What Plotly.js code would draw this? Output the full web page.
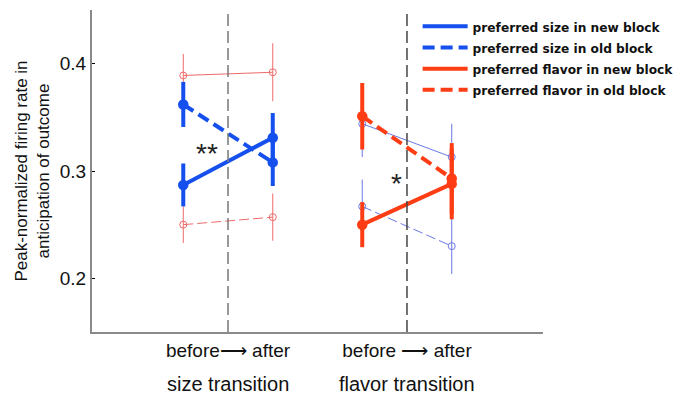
<!DOCTYPE html>
<html><head><meta charset="utf-8">
<script src="https://cdn.plot.ly/plotly-3.0.1.min.js"></script>
<style>html,body{margin:0;padding:0;background:#fff}#chart{width:682px;height:394px}</style>
</head><body><div id="chart"></div>
<script>
// ---- data ----
const transitions = ['size transition', 'flavor transition'];
const phases = ['before', 'after'];
const tickLabels = ['before\u27F6 after', 'before \u27F6 after'];
const legendNames = ['preferred size in new block', 'preferred size in old block',
                     'preferred flavor in new block', 'preferred flavor in old block'];
const yTicks = [0.2, 0.3, 0.4];
const yTickText = ['0.2', '0.3', '0.4'];

// size transition
const sizeTr_sizeNew = [0.287, 0.331];   const sizeTr_sizeNewErr = [0.020, 0.023];
const sizeTr_sizeOld = [0.362, 0.308];   const sizeTr_sizeOldErr = [0.021, 0.022];
const sizeTr_flavNew = [0.389, 0.392];   const sizeTr_flavNewErr = [0.020, 0.027];
const sizeTr_flavOld = [0.250, 0.257];   const sizeTr_flavOldErr = [0.017, 0.022];
// flavor transition
const flavTr_flavNew = [0.250, 0.288];   const flavTr_flavNewErr = [0.021, 0.033];
const flavTr_flavOld = [0.351, 0.293];   const flavTr_flavOldErr = [0.031, 0.033];
const flavTr_sizeNew = [0.344, 0.313];   const flavTr_sizeNewErr = [0.031, 0.031];
const flavTr_sizeOld = [0.267, 0.230];   const flavTr_sizeOldErr = [0.025, 0.026];

const significance = ['**', '*'];

// ---- styling ----
const BLUE = '#1550ee', RED = '#ff3d14', LBLUE = '#6b79e6', LRED = '#f06a6a';
const FONT = 'Liberation Sans, Arial, sans-serif';

function xs(ti) { return phases.map((p, i) => ti + 1 + (i === 0 ? -0.25 : 0.25)); }

function thick(ti, y, err, color, dash) {
  return {x: xs(ti), y: y, type: 'scatter', mode: 'lines+markers', showlegend: false,
    line: {color: color, width: 4, dash: dash},
    marker: {color: color, size: 10.5},
    error_y: {type: 'data', array: err, visible: true, color: color, thickness: 4, width: 0}};
}
function thin(ti, y, err, color, dash) {
  return {x: xs(ti), y: y, type: 'scatter', mode: 'lines+markers', showlegend: false,
    line: {color: color, width: 1, dash: dash},
    marker: {color: color, size: 7, symbol: 'circle-open', line: {color: color, width: 1}},
    error_y: {type: 'data', array: err, visible: true, color: color, thickness: 1, width: 0}};
}
function legendOnly(name, color, dash) {
  return {x: [null], y: [null], type: 'scatter', mode: 'lines',
    name: '<span style="font-size:12.2px">' + name + '</span>',
    line: {color: color, width: 4, dash: dash}};
}

const data = [
  thin(0, sizeTr_flavNew, sizeTr_flavNewErr, LRED, 'solid'),
  thin(0, sizeTr_flavOld, sizeTr_flavOldErr, LRED, '10px,4px'),
  thin(1, flavTr_sizeNew, flavTr_sizeNewErr, LBLUE, 'solid'),
  thin(1, flavTr_sizeOld, flavTr_sizeOldErr, LBLUE, '10px,4px'),
  thick(0, sizeTr_sizeNew, sizeTr_sizeNewErr, BLUE, 'solid'),
  thick(0, sizeTr_sizeOld, sizeTr_sizeOldErr, BLUE, '12px,6px'),
  thick(1, flavTr_flavNew, flavTr_flavNewErr, RED, 'solid'),
  thick(1, flavTr_flavOld, flavTr_flavOldErr, RED, '12px,6px'),
  legendOnly(legendNames[0], BLUE, 'solid'),
  legendOnly(legendNames[1], BLUE, '12px,6px'),
  legendOnly(legendNames[2], RED, 'solid'),
  legendOnly(legendNames[3], RED, '12px,6px')
];

const annotations = transitions.map((t, i) => ({
  x: i + 1, xref: 'x', y: -0.16, yref: 'paper', text: t, showarrow: false,
  xanchor: 'center', yanchor: 'middle', font: {family: FONT, size: 20, color: '#111'}
})).concat([
  {x: 0.885, y: 0.316, xref: 'x', yref: 'y', text: significance[0], showarrow: false,
   font: {family: FONT, size: 28, color: '#222'}},
  {x: 1.94, y: 0.288, xref: 'x', yref: 'y', text: significance[1], showarrow: false,
   font: {family: FONT, size: 28, color: '#222'}}
]);

const layout = {
  width: 682, height: 394,
  margin: {l: 92, r: 139, t: 10, b: 62, autoexpand: false},
  paper_bgcolor: '#fff', plot_bgcolor: '#fff',
  showlegend: true,
  legend: {x: 0.722, y: 0.998, xanchor: 'left', yanchor: 'top', bgcolor: 'rgba(0,0,0,0)',
    itemwidth: 45, tracegroupgap: 0,
    font: {family: 'DejaVu Sans', size: 14, weight: 'bold', color: '#111'}},
  xaxis: {range: [0.24, 2.76], tickvals: [1, 2], ticktext: tickLabels, showgrid: false,
    zeroline: false, showline: true, linecolor: '#8a8a8a', linewidth: 2, ticks: '',
    tickfont: {family: FONT, size: 19, color: '#111'}, fixedrange: true},
  yaxis: {range: [0.15, 0.45], tickvals: yTicks, ticktext: yTickText, showgrid: false,
    zeroline: false, showline: true, linecolor: '#8a8a8a', linewidth: 2,
    ticks: 'inside', ticklen: 3, tickcolor: '#000', tickwidth: 1,
    tickfont: {family: FONT, size: 19, color: '#111'},
    title: {text: 'Peak-normalized firing rate in<br>anticipation of outcome',
      font: {family: FONT, size: 17, color: '#111'}, standoff: 6}},
  shapes: [
    {type: 'line', xref: 'x', yref: 'paper', x0: 1, x1: 1, y0: 0, y1: 1,
     line: {color: '#777', width: 1.5, dash: '12px,5px'}},
    {type: 'line', xref: 'x', yref: 'paper', x0: 2, x1: 2, y0: 0, y1: 1,
     line: {color: '#444', width: 1.5, dash: '12px,5px'}}
  ],
  annotations: annotations
};

Plotly.newPlot('chart', data, layout, {displayModeBar: false, staticPlot: true});
</script>
</body></html>
